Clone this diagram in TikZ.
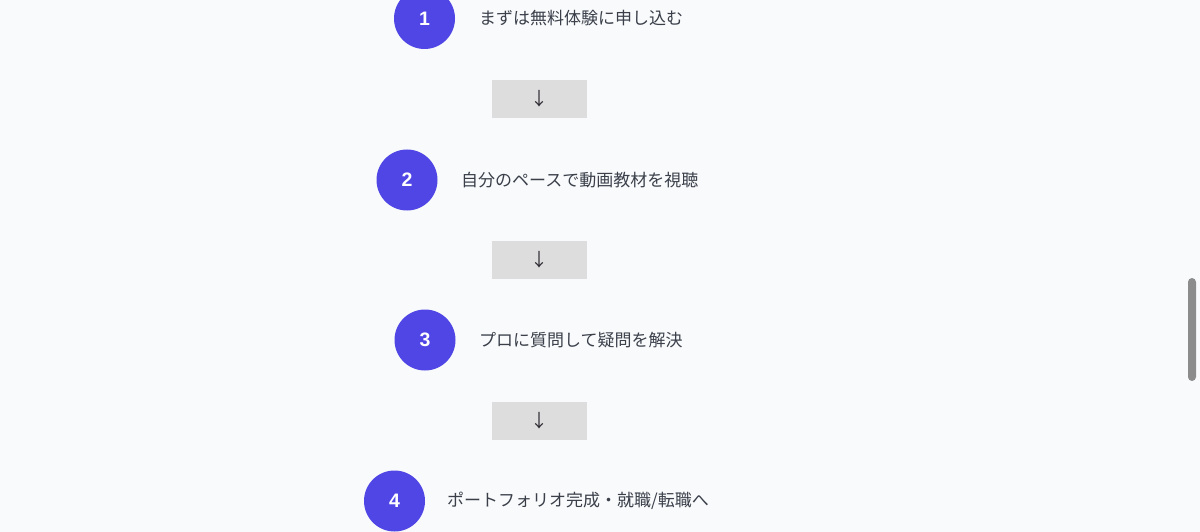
\documentclass[tikz,border=0pt]{standalone}
\usepackage{fontspec}
\newfontfamily\jp{Noto Sans CJK JP}
\newfontfamily\numfont{Liberation Sans}
\definecolor{bg}{HTML}{F9FAFB}
\definecolor{indigo}{HTML}{4F46E5}
\definecolor{txt}{HTML}{3A3F4A}
\definecolor{boxgray}{HTML}{DDDDDD}
\definecolor{arrowc}{HTML}{2E2A33}
\definecolor{scroll}{HTML}{8C8C8C}
\tikzset{
  stepcircle/.style={circle, fill=indigo, draw=none, minimum size=61pt, inner sep=0pt,
    text=white, font=\numfont\bfseries\fontsize{19.5pt}{19.5pt}\selectfont},
  steptext/.style={anchor=west, inner sep=0pt, text=txt, font=\jp\fontsize{17pt}{17pt}\selectfont},
  arrowbox/.style={rectangle, fill=boxgray, draw=none, minimum width=95pt, minimum height=38pt,
    inner sep=0pt, text=arrowc, font=\jp\fontsize{18pt}{18pt}\selectfont}
}
\begin{document}
\begin{tikzpicture}[x=1pt,y=-1pt]
\fill[bg] (0,0) rectangle (1200,532);
\useasboundingbox (0,0) rectangle (1200,532);
% steps
\node[stepcircle] (c1) at (424.5,18.5) {1};
\node[steptext] (t1) at (479,18.5) {まずは無料体験に申し込む};
\node[arrowbox] (a1) at (539.5,99) {↓};
\node[stepcircle] (c2) at (407,180) {2};
\node[steptext] (t2) at (461,180) {自分のペースで動画教材を視聴};
\node[arrowbox] (a2) at (539.5,260) {↓};
\node[stepcircle] (c3) at (425,340) {3};
\node[steptext] (t3) at (479,340) {プロに質問して疑問を解決};
\node[arrowbox] (a3) at (539.5,421) {↓};
\node[stepcircle] (c4) at (394.5,501) {4};
\node[steptext] (t4) at (447,501) {ポートフォリオ完成・就職/転職へ};
% scrollbar
\fill[scroll, rounded corners=4pt] (1188,278) rectangle (1196,381);
\end{tikzpicture}
\end{document}
